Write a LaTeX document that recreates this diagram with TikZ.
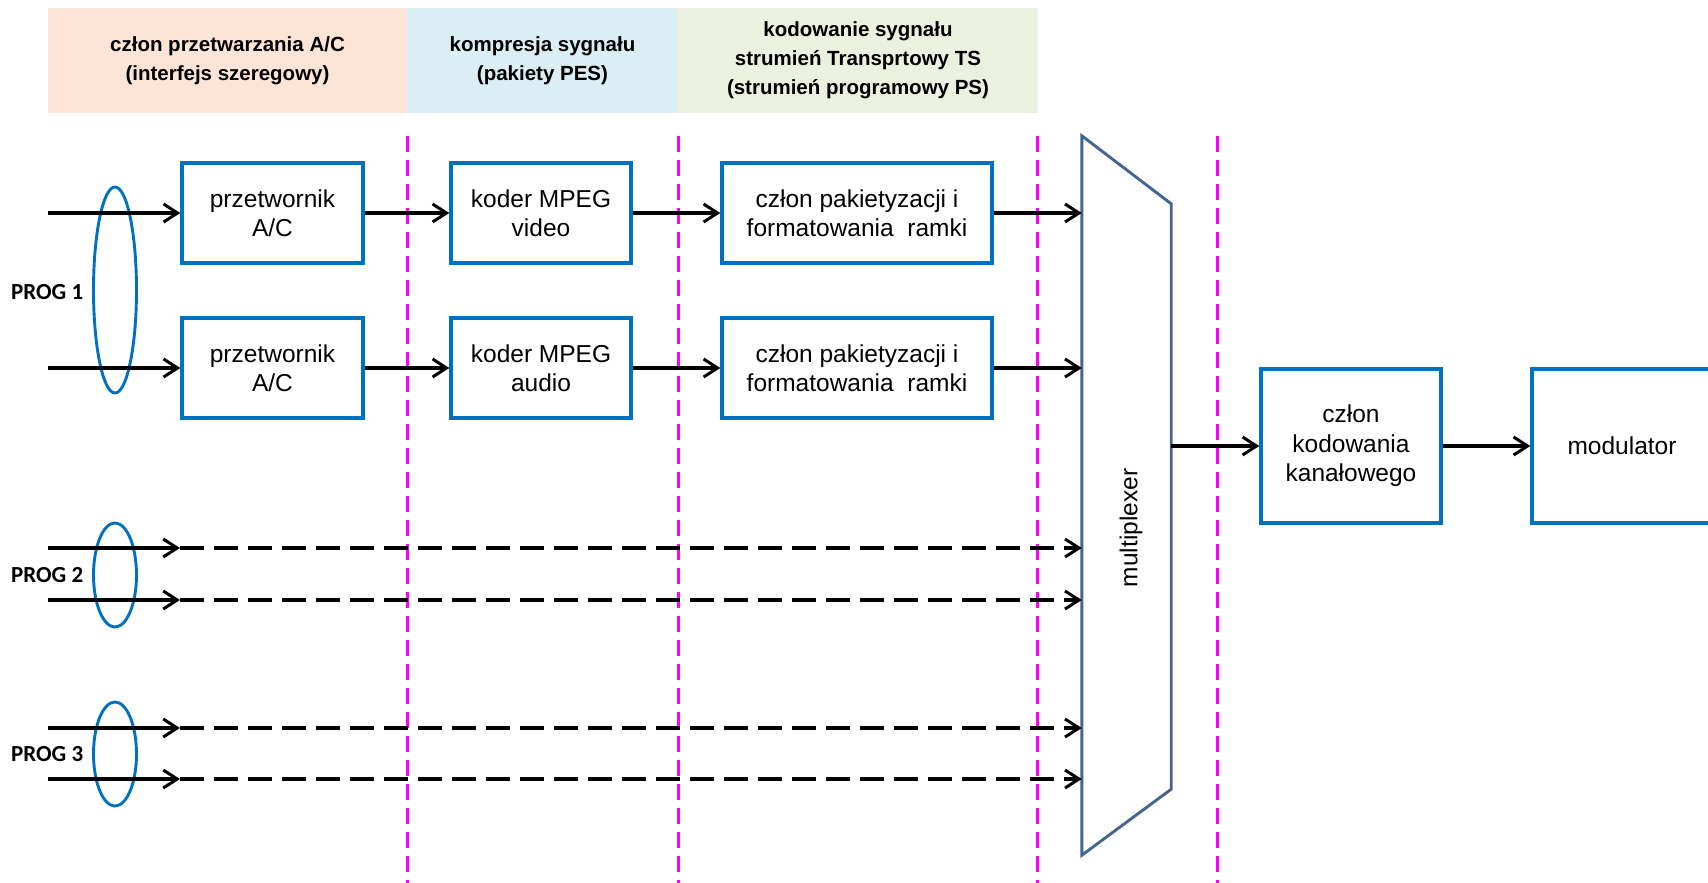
\documentclass[tikz,border=0pt]{standalone}
\usepackage{fontspec}
\setmainfont{Liberation Sans}
\newfontfamily\progfont{Carlito}
\usetikzlibrary{arrows.meta,calc,shapes.geometric}

\definecolor{boxblue}{RGB}{0,112,192}
\definecolor{muxblue}{RGB}{68,100,145}
\definecolor{bandorange}{RGB}{252,229,214}
\definecolor{bandblue}{RGB}{218,238,243}
\definecolor{bandgreen}{RGB}{235,241,222}
\definecolor{sepmagenta}{RGB}{255,0,255}

\begin{document}
\begin{tikzpicture}[x=1pt,y=-1pt,
  block/.style={draw=boxblue, line width=3.3pt, fill=white, inner sep=0pt,
    align=center, font=\fontsize{24.5}{29.5}\selectfont},
  band/.style={inner sep=0pt, align=center, minimum height=105pt,
    font=\bfseries\fontsize{20.5}{29}\selectfont},
  sig/.style={line width=3.3pt,
    -{Straight Barb[length=14pt,width=18pt,line width=3pt]}},
  sigdash/.style={sig, dash pattern=on 24pt off 10pt},
  grp/.style={draw=boxblue, line width=2.9pt},
  sepline/.style={draw=sepmagenta, line width=3pt, dash pattern=on 16pt off 8pt},
  proglabel/.style={anchor=west, inner sep=0pt,
    font=\progfont\bfseries\fontsize{23}{27}\selectfont},
]
\useasboundingbox (0,0) rectangle (1708,883);

% stage headings
\node[band, fill=bandorange, minimum width=359pt] (hA) at (227.5,60.5)
  {człon przetwarzania A/C\\(interfejs szeregowy)};
\node[band, fill=bandblue, minimum width=271pt] (hB) at (542.5,60.5)
  {kompresja sygnału\\(pakiety PES)};
\node[band, fill=bandgreen, minimum width=360pt] (hC) at (858,60.5)
  {kodowanie sygnału\\strumień Transprtowy TS\\(strumień programowy PS)};

% stage boundaries
\foreach \xx in {407,678,1037,1217}
  \draw[sepline] (\xx,136) -- (\xx,883);

% processing blocks
\node[block, minimum width=181pt, minimum height=100pt] (ac1) at (272.5,213) {przetwornik\\A/C};
\node[block, minimum width=181pt, minimum height=100pt] (ac2) at (272.5,368) {przetwornik\\A/C};
\node[block, minimum width=180pt, minimum height=100pt] (mpv) at (541,213) {koder MPEG\\video};
\node[block, minimum width=180pt, minimum height=100pt] (mpa) at (541,368) {koder MPEG\\audio};
\node[block, minimum width=270pt, minimum height=100pt] (pk1) at (857,213) {człon pakietyzacji i\\formatowania\ \ ramki};
\node[block, minimum width=270pt, minimum height=100pt] (pk2) at (857,368) {człon pakietyzacji i\\formatowania\ \ ramki};
\node[block, minimum width=180pt, minimum height=154pt] (chan) at (1351,446) {człon\\kodowania\\kanałowego};
\node[block, minimum width=180pt, minimum height=154pt] (mod) at (1622,446) {modulator};

% multiplexer
\node[minimum width=89pt, minimum height=719pt, inner sep=0pt] (mux) at (1126.5,495.5) {};
\draw[draw=muxblue, line width=2.9pt, line join=miter]
  (mux.north west) -- ($(mux.north east)+(0,68)$) -- ($(mux.south east)+(0,-66)$)
  -- (mux.south west) -- cycle;
\node[rotate=90, inner sep=0pt, font=\fontsize{24.5}{29.5}\selectfont] (muxlabel) at (1131,528) {multiplexer};

% programme groups
\node[grp, ellipse, minimum width=43pt, minimum height=206pt, inner sep=0pt] (g1) at (115,290) {};
\node[grp, ellipse, minimum width=43pt, minimum height=104pt, inner sep=0pt] (g2) at (115,575) {};
\node[grp, ellipse, minimum width=43pt, minimum height=104pt, inner sep=0pt] (g3) at (115,754) {};
\node[proglabel] (l1) at (11,292) {PROG 1};
\node[proglabel] (l2) at (11,575) {PROG 2};
\node[proglabel] (l3) at (11,754) {PROG 3};

% PROG 1 signal path
\coordinate (in1) at (48,213);
\coordinate (in2) at (48,368);
\draw[sig] (in1) -- (ac1);
\draw[sig] (ac1) -- (mpv);
\draw[sig] (mpv) -- (pk1);
\draw[sig] (pk1) -- (pk1 -| mux.west);
\draw[sig] (in2) -- (ac2);
\draw[sig] (ac2) -- (mpa);
\draw[sig] (mpa) -- (pk2);
\draw[sig] (pk2) -- (pk2 -| mux.west);

% PROG 2 and PROG 3 signal paths
\foreach \n/\yy in {3/548,4/600,5/728,6/779} {
  \coordinate (in\n) at (48,\yy);
  \coordinate (tip\n) at (180,\yy);
  \draw[sig] (in\n) -- (tip\n);
  \draw[sigdash] (tip\n) -- (tip\n -| mux.west);
}

% output chain
\draw[sig] (chan.west -| mux.east) -- (chan);
\draw[sig] (chan) -- (mod);
\end{tikzpicture}
\end{document}
